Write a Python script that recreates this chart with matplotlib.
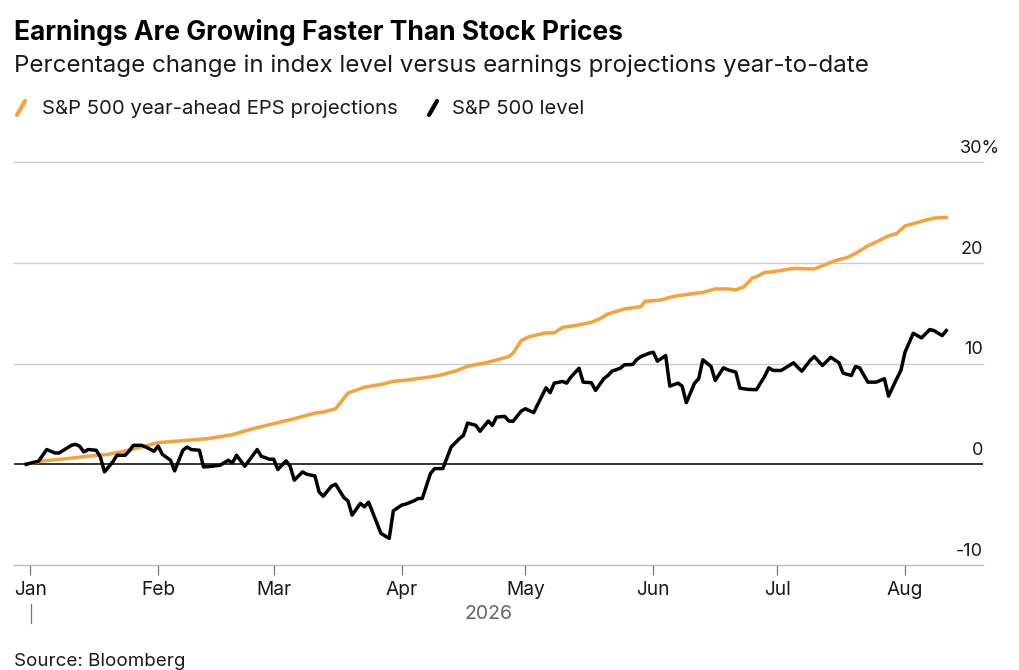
import matplotlib
matplotlib.use("Agg")
import matplotlib.pyplot as plt
import matplotlib.dates as mdates
from matplotlib import transforms
from matplotlib.lines import Line2D
import pandas as pd

plt.rcParams['font.family'] = ['Inter', 'DejaVu Sans']

# S&P 500 year-ahead EPS projections, % change YTD
eps_dates = ["2025-12-31", "2026-01-04", "2026-01-10", "2026-01-15", "2026-01-20",
             "2026-01-24", "2026-01-28", "2026-02-01", "2026-02-06", "2026-02-13",
             "2026-02-19", "2026-02-24", "2026-03-01", "2026-03-06", "2026-03-11",
             "2026-03-13", "2026-03-16", "2026-03-19", "2026-03-23", "2026-03-27",
             "2026-03-30", "2026-04-05", "2026-04-10", "2026-04-13", "2026-04-14",
             "2026-04-17", "2026-04-22", "2026-04-27", "2026-04-28", "2026-04-30",
             "2026-05-02", "2026-05-06", "2026-05-08", "2026-05-10", "2026-05-13",
             "2026-05-17", "2026-05-19", "2026-05-21", "2026-05-25", "2026-05-29",
             "2026-05-30", "2026-06-03", "2026-06-05", "2026-06-07", "2026-06-13",
             "2026-06-16", "2026-06-19", "2026-06-21", "2026-06-23", "2026-06-25",
             "2026-06-26", "2026-06-28", "2026-06-30", "2026-07-05", "2026-07-10",
             "2026-07-12", "2026-07-15", "2026-07-18", "2026-07-20", "2026-07-23",
             "2026-07-26", "2026-07-28", "2026-07-30", "2026-08-01", "2026-08-04",
             "2026-08-06", "2026-08-08", "2026-08-11"]
eps_pct = [0.0, 0.33, 0.56, 0.79, 0.99, 1.32, 1.71, 2.15, 2.31, 2.54,
           2.94, 3.53, 4.03, 4.52, 5.08, 5.18, 5.51, 7.06, 7.65, 7.92,
           8.22, 8.49, 8.81, 9.14, 9.24, 9.73, 10.13, 10.69, 11.02, 12.28,
           12.67, 13.04, 13.04, 13.59, 13.76, 14.09, 14.43, 14.92, 15.42, 15.64,
           16.17, 16.31, 16.56, 16.73, 17.06, 17.40, 17.40, 17.30, 17.62, 18.49,
           18.61, 19.04, 19.11, 19.44, 19.38, 19.70, 20.20, 20.52, 20.92, 21.68,
           22.25, 22.67, 22.90, 23.66, 23.99, 24.23, 24.43, 24.49]

# S&P 500 level, % change YTD
spx_dates = ["2025-12-31", "2026-01-03", "2026-01-05", "2026-01-07", "2026-01-08",
             "2026-01-11", "2026-01-12", "2026-01-13", "2026-01-14", "2026-01-15",
             "2026-01-17", "2026-01-18", "2026-01-19", "2026-01-21", "2026-01-22",
             "2026-01-24", "2026-01-25", "2026-01-26", "2026-01-28", "2026-01-29",
             "2026-01-31", "2026-02-01", "2026-02-02", "2026-02-04", "2026-02-05",
             "2026-02-07", "2026-02-08", "2026-02-09", "2026-02-11", "2026-02-12",
             "2026-02-14", "2026-02-16", "2026-02-18", "2026-02-19", "2026-02-20",
             "2026-02-22", "2026-02-25", "2026-02-26", "2026-02-28", "2026-03-01",
             "2026-03-02", "2026-03-04", "2026-03-05", "2026-03-06", "2026-03-08",
             "2026-03-09", "2026-03-11", "2026-03-12", "2026-03-13", "2026-03-15",
             "2026-03-16", "2026-03-18", "2026-03-19", "2026-03-20", "2026-03-22",
             "2026-03-23", "2026-03-24", "2026-03-27", "2026-03-29", "2026-03-30",
             "2026-04-01", "2026-04-02", "2026-04-04", "2026-04-05", "2026-04-06",
             "2026-04-08", "2026-04-09", "2026-04-11", "2026-04-13", "2026-04-15",
             "2026-04-16", "2026-04-17", "2026-04-19", "2026-04-20", "2026-04-22",
             "2026-04-23", "2026-04-24", "2026-04-26", "2026-04-27", "2026-04-28",
             "2026-04-30", "2026-05-01", "2026-05-03", "2026-05-04", "2026-05-06",
             "2026-05-07", "2026-05-08", "2026-05-10", "2026-05-11", "2026-05-12",
             "2026-05-14", "2026-05-15", "2026-05-17", "2026-05-18", "2026-05-20",
             "2026-05-21", "2026-05-22", "2026-05-24", "2026-05-25", "2026-05-27",
             "2026-05-28", "2026-05-29", "2026-05-31", "2026-06-01", "2026-06-02",
             "2026-06-04", "2026-06-05", "2026-06-07", "2026-06-08", "2026-06-09",
             "2026-06-11", "2026-06-12", "2026-06-13", "2026-06-15", "2026-06-16",
             "2026-06-18", "2026-06-19", "2026-06-21", "2026-06-22", "2026-06-24",
             "2026-06-26", "2026-06-28", "2026-06-29", "2026-06-30", "2026-07-02",
             "2026-07-05", "2026-07-06", "2026-07-07", "2026-07-09", "2026-07-10",
             "2026-07-12", "2026-07-14", "2026-07-16", "2026-07-17", "2026-07-19",
             "2026-07-20", "2026-07-21", "2026-07-23", "2026-07-25", "2026-07-27",
             "2026-07-28", "2026-07-30", "2026-07-31", "2026-08-01", "2026-08-03",
             "2026-08-05", "2026-08-07", "2026-08-08", "2026-08-10", "2026-08-11"]
spx_pct = [0.0, 0.30, 1.46, 1.12, 1.12, 1.88, 1.98, 1.78, 1.22, 1.46,
           1.39, 0.72, -0.76, 0.23, 0.89, 0.89, 1.32, 1.88, 1.88, 1.71,
           1.29, 1.81, 0.99, 0.40, -0.66, 1.39, 1.71, 1.46, 1.39, -0.27,
           -0.20, -0.10, 0.40, 0.13, 0.89, -0.20, 1.46, 0.79, 0.50, 0.50,
           -0.52, 0.33, -0.20, -1.58, -0.76, -0.99, -1.16, -2.74, -3.17, -2.18,
           -1.98, -3.30, -3.63, -5.05, -3.89, -4.23, -3.76, -6.86, -7.36, -4.62,
           -4.06, -3.96, -3.63, -3.40, -3.40, -0.92, -0.43, -0.43, 1.71, 2.54,
           2.87, 4.09, 3.86, 3.27, 4.29, 3.86, 4.68, 4.75, 4.29, 4.26,
           5.28, 5.51, 5.12, 5.94, 7.59, 7.10, 8.05, 8.22, 8.05, 8.64,
           9.53, 8.15, 8.09, 7.33, 8.49, 8.81, 9.24, 9.53, 9.87, 9.90,
           10.40, 10.69, 11.02, 11.12, 10.23, 10.79, 7.75, 8.05, 7.75, 6.11,
           8.05, 8.49, 10.37, 9.70, 8.32, 9.57, 9.38, 9.14, 7.55, 7.43,
           7.40, 8.74, 9.57, 9.31, 9.31, 10.07, 9.63, 9.24, 10.30, 10.69,
           9.80, 10.62, 10.07, 9.04, 8.81, 9.70, 9.57, 8.15, 8.15, 8.49,
           6.76, 8.49, 9.31, 11.12, 13.00, 12.54, 13.37, 13.27, 12.77, 13.27]

y_ticks = [-10, 0, 10, 20, 30]
y_labels = ["-10", "0", "10", "20", "30%"]
month_labels = ["Jan", "Feb", "Mar", "Apr", "May", "Jun", "Jul", "Aug"]

ORANGE = "#f7a13a"
TXT = "#1a1a1a"
W, H = 1019, 670


def fx(px):
    return px / W


def fy(py):
    return 1 - py / H


fig = plt.figure(figsize=(W / 100, H / 100), dpi=100)
ax = fig.add_axes([fx(14), fy(565), fx(983) - fx(14), fy(162) - fy(565)])

eps_x = pd.to_datetime(eps_dates)
spx_x = pd.to_datetime(spx_dates)

# gridlines first, lines on top
for v in y_ticks[1:]:
    if v == 0:
        ax.axhline(v, color="black", lw=1.1, zorder=2)
    else:
        ax.axhline(v, color="#cccccc", lw=1.0, zorder=1, clip_on=False)

ax.plot(eps_x, eps_pct, color=ORANGE, lw=2.5, solid_joinstyle="round", zorder=3)
ax.plot(spx_x, spx_pct, color="black", lw=2.5, solid_joinstyle="round", zorder=4)

base = mdates.date2num(pd.Timestamp("2026-01-01"))
ax.set_xlim(base - 3.93, base + 230.9)
ax.set_ylim(-10, 30)

for s in ["top", "left", "right"]:
    ax.spines[s].set_visible(False)
ax.spines["bottom"].set_color("#bbbbbb")
ax.spines["bottom"].set_linewidth(1.0)

ax.set_yticks([])
month_ticks = pd.date_range("2026-01-01", periods=len(month_labels), freq="MS")
ax.set_xticks(month_ticks)
ax.set_xticklabels(month_labels)
ax.tick_params(axis="x", direction="out", length=7, width=0.9, color="#777777",
               labelsize=13.8, labelcolor=TXT, pad=4.5)

# right-hand value labels sitting above each gridline
trans = transforms.blended_transform_factory(ax.transAxes, ax.transData)
for v, label in zip(y_ticks, y_labels):
    if label.endswith("%"):
        # digits line up with the others, the % sign hangs past the edge
        ax.annotate(label, xy=(1, v), xycoords=trans, xytext=(-17, 6.5),
                    textcoords="offset points", ha="left", va="baseline",
                    fontsize=13, color=TXT, annotation_clip=False)
    else:
        ax.annotate(label, xy=(1, v), xycoords=trans, xytext=(0, 6.5),
                    textcoords="offset points", ha="right", va="baseline",
                    fontsize=13, color=TXT, annotation_clip=False)

# year label under the month ticks
fig.text(fx(488), fy(619), "2026", ha="center", va="baseline", fontsize=14,
         color="#666666")
fig.add_artist(Line2D([fx(30.5), fx(30.5)], [fy(604), fy(623)],
                      color="#777777", lw=0.9, transform=fig.transFigure))

# title block
fig.text(fx(14), fy(40.5), "Earnings Are Growing Faster Than Stock Prices",
         fontsize=19, fontweight="bold", va="baseline")
fig.text(fx(14), fy(72),
         "Percentage change in index level versus earnings projections year-to-date",
         fontsize=17.4, va="baseline", color=TXT)

# legend with slanted swatches
fig.add_artist(Line2D([fx(17), fx(25)], [fy(115), fy(101)], color=ORANGE,
                      lw=3, solid_capstyle="round", transform=fig.transFigure))
fig.text(fx(42), fy(114), "S&P 500 year-ahead EPS projections", fontsize=14.6,
         va="baseline", color=TXT)
fig.add_artist(Line2D([fx(429), fx(437)], [fy(115), fy(101)], color="black",
                      lw=3, solid_capstyle="round", transform=fig.transFigure))
fig.text(fx(452), fy(114), "S&P 500 level", fontsize=14.5, va="baseline",
         color=TXT)

fig.text(fx(14), fy(666), "Source: Bloomberg", fontsize=13.5, va="baseline",
         color=TXT)

fig.savefig("out.png", dpi=100)
